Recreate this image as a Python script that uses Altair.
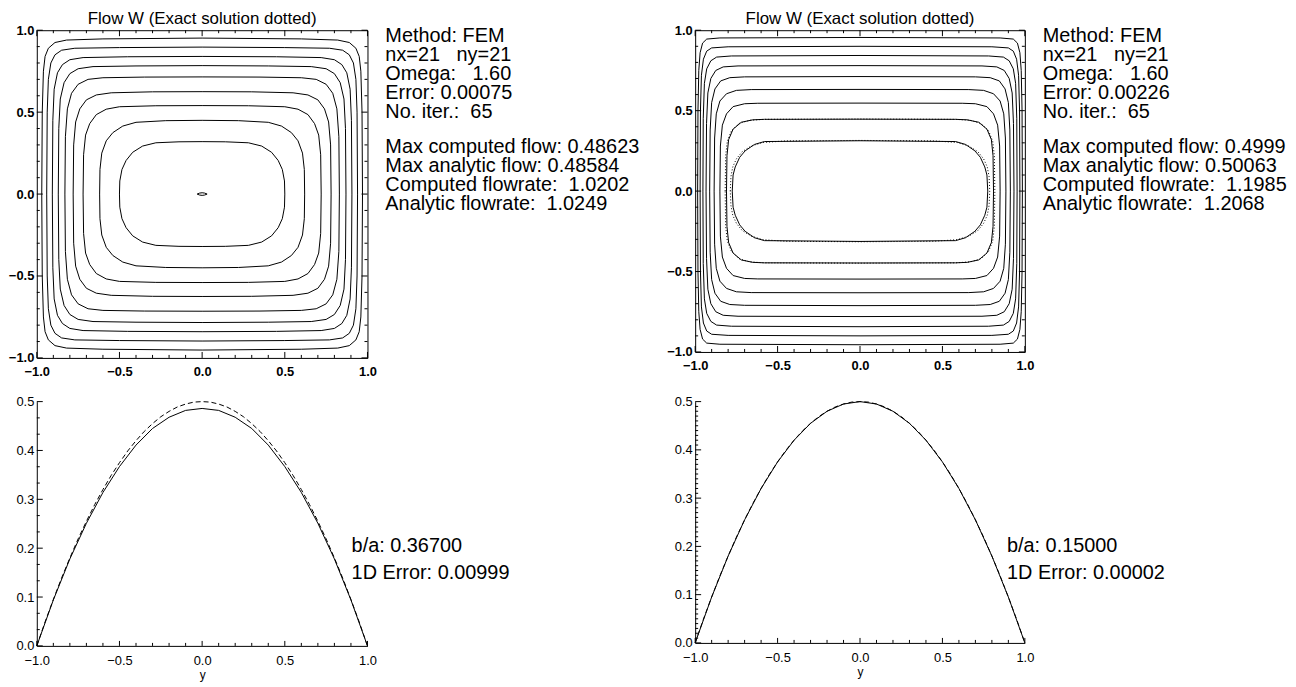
import altair as alt
import pandas as pd

FONT = "Liberation Sans"
NB = "\u00a0"

# ---------------- data ----------------
tick_major = [-1.0, -0.5, 0.0, 0.5, 1.0]
tick_minor = [-0.9, -0.8, -0.7, -0.6, -0.4, -0.3, -0.2, -0.1,
              0.1, 0.2, 0.3, 0.4, 0.6, 0.7, 0.8, 0.9]
flow_major = [0.0, 0.1, 0.2, 0.3, 0.4, 0.5]
flow_minor_left = [0.0333, 0.0667, 0.1333, 0.1667, 0.2333, 0.2667,
                   0.3333, 0.3667, 0.4333, 0.4667]
flow_minor_right = [0.01, 0.02, 0.03, 0.04, 0.05, 0.06, 0.07, 0.08, 0.09,
                    0.11, 0.12, 0.13, 0.14, 0.15, 0.16, 0.17, 0.18, 0.19,
                    0.21, 0.22, 0.23, 0.24, 0.25, 0.26, 0.27, 0.28, 0.29,
                    0.31, 0.32, 0.33, 0.34, 0.35, 0.36, 0.37, 0.38, 0.39,
                    0.41, 0.42, 0.43, 0.44, 0.45, 0.46, 0.47, 0.48, 0.49]

# contour lines, one quadrant each (from (-a, 0) to (0, b))
left_contours = [
    [(-0.970, 0), (-0.967, 0.50), (-0.960, 0.75), (-0.950, 0.84), (-0.930, 0.89), (-0.890, 0.925), (-0.820, 0.940), (-0.60, 0.947), (0, 0.952)],
    [(-0.940, 0), (-0.937, 0.50), (-0.930, 0.70), (-0.915, 0.80), (-0.890, 0.85), (-0.850, 0.878), (-0.770, 0.890), (-0.50, 0.894), (0, 0.897)],
    [(-0.906, 0), (-0.903, 0.45), (-0.895, 0.64), (-0.875, 0.74), (-0.845, 0.79), (-0.800, 0.820), (-0.720, 0.833), (-0.45, 0.838), (0, 0.840)],
    [(-0.870, 0), (-0.867, 0.40), (-0.858, 0.58), (-0.835, 0.68), (-0.800, 0.735), (-0.750, 0.765), (-0.660, 0.778), (-0.40, 0.782), (0, 0.784)],
    [(-0.830, 0), (-0.827, 0.35), (-0.815, 0.52), (-0.790, 0.615), (-0.750, 0.67), (-0.690, 0.700), (-0.600, 0.710), (-0.35, 0.714), (0, 0.715)],
    [(-0.780, 0), (-0.777, 0.30), (-0.765, 0.44), (-0.740, 0.52), (-0.700, 0.575), (-0.640, 0.605), (-0.550, 0.618), (-0.30, 0.624), (0, 0.625)],
    [(-0.720, 0), (-0.717, 0.24), (-0.705, 0.36), (-0.680, 0.43), (-0.640, 0.485), (-0.580, 0.518), (-0.500, 0.533), (-0.28, 0.539), (0, 0.540)],
    [(-0.620, 0), (-0.618, 0.15), (-0.607, 0.25), (-0.580, 0.325), (-0.540, 0.375), (-0.480, 0.415), (-0.400, 0.438), (-0.22, 0.448), (0, 0.450)],
    [(-0.500, 0), (-0.498, 0.08), (-0.485, 0.15), (-0.460, 0.205), (-0.420, 0.255), (-0.360, 0.293), (-0.280, 0.313), (-0.14, 0.319), (0, 0.320)],
    [(-0.030, 0), (-0.015, 0.006), (0, 0.008)],
]
right_contours = [
    [(-0.985, 0), (-0.983, 0.50), (-0.978, 0.75), (-0.970, 0.86), (-0.955, 0.92), (-0.930, 0.945), (-0.850, 0.952), (0, 0.955)],
    [(-0.970, 0), (-0.968, 0.50), (-0.962, 0.72), (-0.950, 0.82), (-0.930, 0.87), (-0.900, 0.890), (-0.800, 0.897), (0, 0.900)],
    [(-0.953, 0), (-0.951, 0.45), (-0.944, 0.67), (-0.930, 0.76), (-0.905, 0.81), (-0.870, 0.833), (-0.780, 0.840), (0, 0.843)],
    [(-0.934, 0), (-0.931, 0.42), (-0.923, 0.61), (-0.905, 0.70), (-0.875, 0.75), (-0.830, 0.772), (-0.740, 0.778), (0, 0.780)],
    [(-0.912, 0), (-0.909, 0.38), (-0.900, 0.55), (-0.880, 0.635), (-0.845, 0.685), (-0.790, 0.705), (-0.700, 0.710), (0, 0.712)],
    [(-0.885, 0), (-0.882, 0.33), (-0.872, 0.48), (-0.850, 0.56), (-0.810, 0.605), (-0.750, 0.626), (-0.660, 0.631), (0, 0.632)],
    [(-0.850, 0), (-0.847, 0.28), (-0.835, 0.41), (-0.810, 0.48), (-0.770, 0.525), (-0.700, 0.543), (-0.620, 0.546), (0, 0.547)],
    [(-0.810, 0), (-0.807, 0.22), (-0.797, 0.32), (-0.770, 0.385), (-0.720, 0.428), (-0.650, 0.443), (-0.580, 0.446), (0, 0.447)],
    [(-0.775, 0), (-0.770, 0.10), (-0.757, 0.15), (-0.730, 0.21), (-0.697, 0.25), (-0.640, 0.29), (-0.580, 0.308), (0, 0.313)],
]
right_exact = [
    [(-0.818, 0), (-0.815, 0.22), (-0.805, 0.31), (-0.780, 0.375), (-0.735, 0.420), (-0.670, 0.440), (-0.580, 0.446), (0, 0.448)],
    [(-0.787, 0), (-0.783, 0.09), (-0.772, 0.15), (-0.750, 0.20), (-0.715, 0.245), (-0.660, 0.280), (-0.590, 0.302), (-0.45, 0.312), (0, 0.315)],
]

# 1D profiles
y_coarse = [-1.0, -0.9, -0.8, -0.7, -0.6, -0.5, -0.4, -0.3, -0.2, -0.1, 0.0,
            0.1, 0.2, 0.3, 0.4, 0.5, 0.6, 0.7, 0.8, 0.9, 1.0]
left_computed = [0.0, 0.094, 0.178, 0.251, 0.314, 0.367, 0.411, 0.445, 0.468, 0.482, 0.486,
                 0.482, 0.468, 0.445, 0.411, 0.367, 0.314, 0.251, 0.178, 0.094, 0.0]
right_computed = [0.0, 0.095, 0.180, 0.255, 0.320, 0.375, 0.420, 0.455, 0.480, 0.495, 0.500,
                  0.495, 0.480, 0.455, 0.420, 0.375, 0.320, 0.255, 0.180, 0.095, 0.0]
y_fine = [-1.0, -0.95, -0.9, -0.85, -0.8, -0.75, -0.7, -0.65, -0.6, -0.55, -0.5,
          -0.45, -0.4, -0.35, -0.3, -0.25, -0.2, -0.15, -0.1, -0.05, 0.0,
          0.05, 0.1, 0.15, 0.2, 0.25, 0.3, 0.35, 0.4, 0.45, 0.5,
          0.55, 0.6, 0.65, 0.7, 0.75, 0.8, 0.85, 0.9, 0.95, 1.0]
exact_profile = [0.0, 0.049, 0.095, 0.139, 0.180, 0.219, 0.255, 0.289, 0.320, 0.349, 0.375,
                 0.399, 0.420, 0.439, 0.455, 0.469, 0.480, 0.489, 0.495, 0.499, 0.500,
                 0.499, 0.495, 0.489, 0.480, 0.469, 0.455, 0.439, 0.420, 0.399, 0.375,
                 0.349, 0.320, 0.289, 0.255, 0.219, 0.180, 0.139, 0.095, 0.049, 0.0]

title_text = "Flow W (Exact solution dotted)"
left_info = ["Method: FEM", f"nx=21{NB*3}ny=21", f"Omega:{NB*3}1.60", "Error: 0.00075",
             f"No. iter.:{NB*2}65", "Max computed flow: 0.48623", "Max analytic flow: 0.48584",
             f"Computed flowrate:{NB*2}1.0202", f"Analytic flowrate:{NB*2}1.0249"]
right_info = ["Method: FEM", f"nx=21{NB*3}ny=21", f"Omega:{NB*3}1.60", "Error: 0.00226",
              f"No. iter.:{NB*2}65", "Max computed flow: 0.49997", "Max analytic flow: 0.50063",
              f"Computed flowrate:{NB*2}1.1985", f"Analytic flowrate:{NB*2}1.2068"]
left_bottom_info = ["b/a: 0.36700", "1D Error: 0.00999"]
right_bottom_info = ["b/a: 0.15000", "1D Error: 0.00002"]

# ---------------- layout (pixels, relative to each plot's top-left) ----------------
INFO_DY = [6, 25, 44, 63, 82, 118, 137, 156, 175]
BOTTOM_INFO_DY = [145, 173]


def closed_loop(q):
    return (list(q) + [(-x, y) for x, y in reversed(q)]
            + [(-x, -y) for x, y in q] + [(x, -y) for x, y in reversed(q)])


def contour_frame(quads, tag):
    rows = []
    for i, q in enumerate(quads):
        for k, (x, y) in enumerate(closed_loop(q)):
            rows.append({"cid": f"{tag}{i}", "ord": k, "x": x, "y": y})
    return pd.DataFrame(rows)


def text_layer(s, px, py, size, align="left", baseline="middle", limit=0):
    kw = dict(align=align, baseline=baseline, font=FONT, fontSize=size, color="black")
    if limit:
        kw.update(limit=limit, ellipsis="\u200b")
    return alt.Chart(pd.DataFrame({"t": [s]})).mark_text(**kw).encode(
        text="t:N", x=alt.value(px), y=alt.value(py))


def tick_layers(vals, L, xs, ys, ax_x, ax_y, w, h, sides):
    df = pd.DataFrame({"v": vals})
    out = []
    base = alt.Chart(df).mark_rule(color="black", strokeWidth=1)
    if "bottom" in sides:
        out.append(base.encode(x=alt.X("v:Q", scale=xs, axis=ax_x), y=alt.value(h), y2=alt.value(h - L)))
    if "top" in sides:
        out.append(base.encode(x=alt.X("v:Q", scale=xs, axis=ax_x), y=alt.value(0), y2=alt.value(L)))
    if "left" in sides:
        out.append(base.encode(y=alt.Y("v:Q", scale=ys, axis=ax_y), x=alt.value(0), x2=alt.value(L)))
    if "right" in sides:
        out.append(base.encode(y=alt.Y("v:Q", scale=ys, axis=ax_y), x=alt.value(w), x2=alt.value(w - L)))
    return out


def top_panel(quads, exact, info, w, h, info_dx, info_limit):
    xs = alt.Scale(domain=[-1, 1], nice=False, zero=False)
    ys = alt.Scale(domain=[-1, 1], nice=False, zero=False)
    common = dict(values=tick_major, format=".1f", ticks=False, domain=False, grid=False,
                  labelFontWeight="bold", labelFontSize=13, labelFlush=False,
                  labelOverlap=False, title=None)
    ax_x = alt.Axis(labelPadding=8, **common)
    ax_y = alt.Axis(labelPadding=3, **common)
    layers = [alt.Chart(contour_frame(quads, "c")).mark_line(color="black", strokeWidth=1).encode(
        x=alt.X("x:Q", scale=xs, axis=ax_x), y=alt.Y("y:Q", scale=ys, axis=ax_y),
        detail="cid:N", order=alt.Order("ord:Q"))]
    if exact:
        layers.append(alt.Chart(contour_frame(exact, "e")).mark_line(
            color="black", strokeWidth=1, strokeDash=[1, 2]).encode(
            x=alt.X("x:Q", scale=xs, axis=ax_x), y=alt.Y("y:Q", scale=ys, axis=ax_y),
            detail="cid:N", order=alt.Order("ord:Q")))
    sides = ["bottom", "top", "left", "right"]
    layers += tick_layers(tick_major, 6, xs, ys, ax_x, ax_y, w, h, sides)
    layers += tick_layers(tick_minor, 3, xs, ys, ax_x, ax_y, w, h, sides)
    layers.append(text_layer(title_text, w / 2, -6, 17, align="center", baseline="alphabetic"))
    for s, dy in zip(info, INFO_DY):
        layers.append(text_layer(s, info_dx, dy, 20, limit=info_limit))
    return alt.layer(*layers).properties(
        width=w, height=h, view=alt.ViewBackground(stroke="black", strokeWidth=1))


def bottom_panel(computed, minor_y, info, w, h, info_dx):
    xs = alt.Scale(domain=[-1, 1], nice=False, zero=False)
    ys = alt.Scale(domain=[0, 0.5], nice=False, zero=False)
    ax_x = alt.Axis(values=tick_major, format=".1f", ticks=False, domain=True, domainColor="black",
                    domainWidth=1, grid=False, labelFontSize=13, labelPadding=9, labelFlush=False,
                    labelOverlap=False, title="y", titleFontSize=12, titleFontWeight="normal",
                    titlePadding=2)
    ax_y = alt.Axis(values=flow_major, format=".1f", ticks=False, domain=True, domainColor="black",
                    domainWidth=1, grid=False, labelFontSize=13, labelPadding=3, labelFlush=False,
                    labelOverlap=False, title=None)
    exact_df = pd.DataFrame({"y": y_fine, "w": exact_profile})
    comp_df = pd.DataFrame({"y": y_coarse, "w": computed})
    layers = [
        alt.Chart(exact_df).mark_line(color="black", strokeWidth=1, strokeDash=[5, 3]).encode(
            x=alt.X("y:Q", scale=xs, axis=ax_x), y=alt.Y("w:Q", scale=ys, axis=ax_y)),
        alt.Chart(comp_df).mark_line(color="black", strokeWidth=1).encode(
            x=alt.X("y:Q", scale=xs, axis=ax_x), y=alt.Y("w:Q", scale=ys, axis=ax_y)),
    ]
    layers += tick_layers(tick_major, 5, xs, ys, ax_x, ax_y, w, h, ["bottom"])
    layers += tick_layers(tick_minor, 3, xs, ys, ax_x, ax_y, w, h, ["bottom"])
    layers += tick_layers(flow_major, 6, xs, ys, ax_x, ax_y, w, h, ["left"])
    layers += tick_layers(minor_y, 3, xs, ys, ax_x, ax_y, w, h, ["left"])
    for s, dy in zip(info, BOTTOM_INFO_DY):
        layers.append(text_layer(s, info_dx, dy, 20))
    return alt.layer(*layers).properties(width=w, height=h)


tl = top_panel(left_contours, None, left_info, 333, 330, 351, 262)
tr = top_panel(right_contours, right_exact, right_info, 332, 324, 350, 246)
bl = bottom_panel(left_computed, flow_minor_left, left_bottom_info, 333, 246, 317)
br = bottom_panel(right_computed, flow_minor_right, right_bottom_info, 332, 243, 314)

chart = alt.concat(tl, tr, bl, br, columns=2,
                   spacing={"row": 44, "column": 330}, bounds="flush").properties(
    padding={"left": -1, "top": -1, "right": 0, "bottom": 0}
).configure_view(stroke="transparent").configure_axis(
    labelFont=FONT, titleFont=FONT, labelColor="black", titleColor="black"
)

chart.save("out.html", embed_options={"renderer": "svg", "actions": False})
